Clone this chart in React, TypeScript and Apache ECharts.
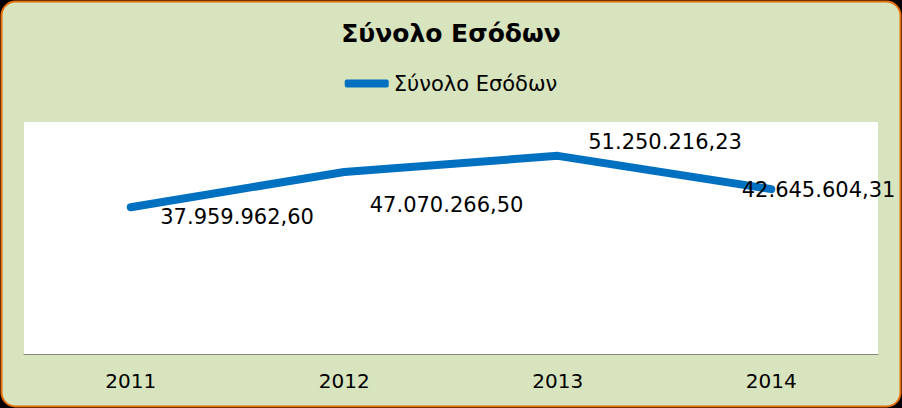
import { useEffect, useRef } from 'react';
import * as echarts from 'echarts';

const years = ['2011', '2012', '2013', '2014'];
const totals = [37959962.6, 47070266.5, 51250216.23, 42645604.31];
// where each data label sits relative to its point (as in the source sheet)
const labelOffsets = [
  [29, 10],
  [25, 33],
  [30, -14],
  [-30, 1],
];

const title = 'Σύνολο Εσόδων';
const seriesName = 'Σύνολο Εσόδων';

function formatGr(v: number) {
  const [int, dec] = v.toFixed(2).split('.');
  return int.replace(/\B(?=(\d{3})+(?!\d))/g, '.') + ',' + dec;
}

export default function App() {
  const chartRef = useRef<HTMLDivElement>(null);

  useEffect(() => {
    document.body.style.margin = '0';
    if (!chartRef.current) return;
    const chart = echarts.init(chartRef.current, null, { renderer: 'svg' });

    const font = 'DejaVu Sans, Verdana, sans-serif';

    chart.setOption({
      animation: false,
      backgroundColor: '#000',
      textStyle: { fontFamily: font },
      graphic: [
        {
          type: 'rect',
          z: -10,
          silent: true,
          shape: { x: 1.5, y: 1.5, width: 899, height: 405, r: 14 },
          style: { fill: '#d7e4bd', stroke: '#e46c0a', lineWidth: 2 },
        },
      ],
      title: {
        text: title,
        left: 'center',
        top: 16,
        textStyle: { fontFamily: font, fontSize: 25, fontWeight: 'bold', color: '#000' },
      },
      legend: {
        top: 68,
        left: 'center',
        itemWidth: 44,
        itemHeight: 8,
        icon: 'roundRect',
        textStyle: { fontFamily: font, fontSize: 21, color: '#000' },
        data: [seriesName],
      },
      grid: {
        left: 24,
        right: 24,
        top: 122,
        bottom: 54,
        show: true,
        backgroundColor: '#fff',
        borderWidth: 0,
      },
      xAxis: {
        type: 'category',
        data: years,
        boundaryGap: true,
        axisLine: { lineStyle: { color: '#868686', width: 1 } },
        axisTick: { show: false },
        axisLabel: { fontFamily: font, fontSize: 20, color: '#000', margin: 17 },
      },
      yAxis: {
        type: 'value',
        min: 0,
        max: 60000000,
        interval: 10000000,
        show: false,
        splitLine: { show: false },
      },
      series: [
        {
          name: seriesName,
          type: 'line',
          symbol: 'circle',
          symbolSize: 1,
          showSymbol: true,
          color: '#0070c0',
          lineStyle: { width: 8, color: '#0070c0', cap: 'round', join: 'round' },
          itemStyle: { color: '#0070c0' },
          data: totals.map((v, i) => ({
            value: v,
            label: {
              show: true,
              position: 'right',
              distance: 0,
              offset: labelOffsets[i],
              align: 'left',
              verticalAlign: 'middle',
              fontFamily: font,
              fontSize: 21,
              color: '#000',
              formatter: () => formatGr(v),
            },
          })),
        },
      ],
    });

    return () => chart.dispose();
  }, []);

  return <div ref={chartRef} style={{ width: 902, height: 408 }} />;
}
